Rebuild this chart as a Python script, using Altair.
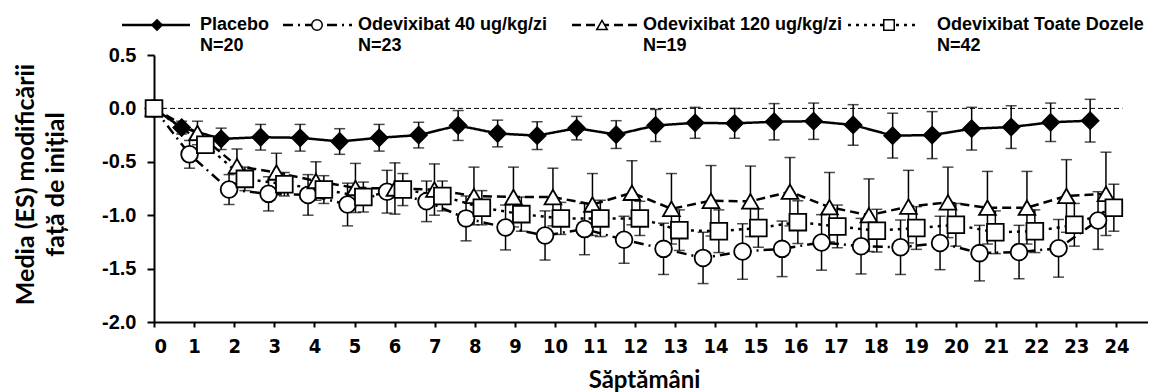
import altair as alt
import pandas as pd

weeks = list(range(25))

series_names = ["Placebo", "Odevixibat 40 ug/kg/zi", "Odevixibat 120 ug/kg/zi", "Odevixibat Toate Dozele"]
series_n = ["N=20", "N=23", "N=19", "N=42"]

placebo_mean = [0, -0.18, -0.285, -0.27, -0.275, -0.31, -0.275, -0.25, -0.16, -0.235, -0.255, -0.185, -0.245,
                -0.16, -0.135, -0.14, -0.125, -0.12, -0.155, -0.255, -0.25, -0.19, -0.175, -0.13, -0.115]
placebo_se = [0, 0.06, 0.10, 0.12, 0.125, 0.12, 0.125, 0.12, 0.14, 0.125, 0.13, 0.11, 0.13,
              0.15, 0.145, 0.14, 0.17, 0.17, 0.19, 0.21, 0.22, 0.20, 0.20, 0.18, 0.20]

dose40_mean = [0, -0.43, -0.76, -0.80, -0.81, -0.90, -0.78, -0.87, -1.03, -1.115, -1.19, -1.13, -1.23,
               -1.315, -1.40, -1.34, -1.315, -1.255, -1.29, -1.30, -1.26, -1.355, -1.345, -1.31, -1.05]
dose40_se = [0, 0.13, 0.14, 0.16, 0.19, 0.20, 0.20, 0.19, 0.21, 0.21, 0.23, 0.24, 0.22,
             0.24, 0.24, 0.26, 0.26, 0.26, 0.26, 0.255, 0.25, 0.26, 0.25, 0.27, 0.27]

dose120_mean = [0, -0.23, -0.54, -0.60, -0.68, -0.745, -0.75, -0.76, -0.82, -0.83, -0.83, -0.90, -0.79,
                -0.94, -0.865, -0.87, -0.78, -0.925, -1.00, -0.92, -0.88, -0.93, -0.93, -0.82, -0.80]
dose120_se = [0, 0.11, 0.16, 0.18, 0.18, 0.23, 0.24, 0.24, 0.27, 0.28, 0.27, 0.29, 0.30,
              0.33, 0.33, 0.33, 0.32, 0.325, 0.34, 0.34, 0.33, 0.34, 0.34, 0.34, 0.39]

all_mean = [0, -0.34, -0.66, -0.71, -0.76, -0.83, -0.76, -0.82, -0.93, -0.99, -1.03, -1.03, -1.03,
            -1.14, -1.15, -1.12, -1.065, -1.105, -1.145, -1.12, -1.09, -1.16, -1.15, -1.09, -0.93]
all_se = [0, 0.07, 0.11, 0.11, 0.13, 0.14, 0.15, 0.14, 0.16, 0.16, 0.15, 0.17, 0.16,
          0.19, 0.20, 0.18, 0.20, 0.20, 0.20, 0.20, 0.20, 0.20, 0.20, 0.20, 0.22]

week_offsets = [-0.3, -0.1, 0.1, 0.3]
x_tick_labels = list(range(25))
y_ticks = [-2.0, -1.5, -1.0, -0.5, 0.0, 0.5]

means = [placebo_mean, dose40_mean, dose120_mean, all_mean]
ses = [placebo_se, dose40_se, dose120_se, all_se]

rows = []
for name, mm, ss, off in zip(series_names, means, ses, week_offsets):
    for w, m, s in zip(weeks, mm, ss):
        rows.append(dict(series=name, week=w, pos=w + (off if w > 0 else 0.0),
                         mean=m, lo=m - s, hi=m + s))
df = pd.DataFrame(rows)

W, H = 994, 267
px_axis = 40.1
px_mark = 39.5

shape_scale = alt.Scale(domain=series_names, range=["diamond", "circle", "triangle-up", "square"])
fill_scale = alt.Scale(domain=series_names, range=["black", "white", "white", "white"])
dash_scale = alt.Scale(domain=series_names, range=[[1, 0], [10, 5, 2, 5], [9, 5], [3, 5]])
size_scale = alt.Scale(domain=series_names, range=[280, 280, 300, 190])

xm = alt.X("pos:Q", scale=alt.Scale(domain=[0, W / px_mark], nice=False, zero=False), axis=None)
ys = alt.Scale(domain=[-2.0, 0.5], nice=False, zero=False)
y_axis = alt.Axis(values=y_ticks,
                  labelExpr="(datum.value < 0 ? '-' : '') + format(abs(datum.value), '.1f')",
                  title=["Media (ES) modificării", "față de inițial"],
                  titleX=-116, titleY=129, titleAngle=-90, titleAlign="center",
                  titleBaseline="bottom", titleLineHeight=30,
                  titleFont="Lato", titleFontSize=25, titleFontWeight="bold",
                  labelFont="Liberation Sans", labelFontSize=20, labelFontWeight="bold",
                  tickSize=7, labelPadding=11)

# axis / zero reference layer
zero_df = pd.DataFrame({"x": [0.0], "x2": [24.15], "y": [0.0]})
zero = alt.Chart(zero_df).mark_rule(color="black", strokeWidth=1, strokeDash=[5, 3]).encode(
    x=alt.X("x:Q", scale=alt.Scale(domain=[0, W / px_axis], nice=False, zero=False),
            axis=alt.Axis(values=x_tick_labels, format="d", title="Săptămâni",
                          titleX=490, titleY=58, titleBaseline="middle",
                          titleFont="Lato", titleFontSize=24, titleFontWeight="bold",
                          labelFont="'Liberation Sans Narrow', 'DejaVu Sans Condensed', 'Liberation Sans', sans-serif",
                          labelFontSize=20, labelFontWeight="bold",
                          tickSize=5, labelPadding=9)),
    x2="x2:Q",
    y=alt.Y("y:Q", scale=ys, axis=y_axis),
)

base = alt.Chart(df)
lines = base.mark_line(color="black", strokeWidth=2.5).encode(
    x=xm, y=alt.Y("mean:Q", scale=ys),
    strokeDash=alt.StrokeDash("series:N", scale=dash_scale, legend=None),
    detail="series:N",
    order="week:Q",
)
bars = base.mark_rule(color="black", strokeWidth=1.5).encode(
    x=xm, y=alt.Y("lo:Q", scale=ys), y2="hi:Q")
caps_lo = base.mark_tick(color="black", thickness=1.5, size=11, orient="horizontal").encode(
    x=xm, y=alt.Y("lo:Q", scale=ys))
caps_hi = base.mark_tick(color="black", thickness=1.5, size=11, orient="horizontal").encode(
    x=xm, y=alt.Y("hi:Q", scale=ys))
points = base.mark_point(filled=True, stroke="black", strokeWidth=1.8, opacity=1).encode(
    x=xm, y=alt.Y("mean:Q", scale=ys),
    shape=alt.Shape("series:N", scale=shape_scale, legend=None),
    fill=alt.Fill("series:N", scale=fill_scale, legend=None),
    size=alt.Size("series:N", scale=size_scale, legend=None),
)

# legend (pixel positions relative to plot area)
leg_line_x1 = [-32, 129, 418, 694]
leg_line_x2 = [36, 198, 485, 763]
leg_sym_x = [3, 163, 448, 735]
leg_text_x = [46, 204, 489, 783]
leg = pd.DataFrame({"series": series_names, "n": series_n, "x1": leg_line_x1, "x2": leg_line_x2,
                    "sx": leg_sym_x, "tx": leg_text_x, "y1": [-30] * 4, "y2": [-9] * 4})
lbase = alt.Chart(leg)
leg_lines = lbase.mark_rule(color="black", strokeWidth=2.5).encode(
    x=alt.X("x1:Q", scale=None), x2="x2:Q", y=alt.Y("y1:Q", scale=None),
    strokeDash=alt.StrokeDash("series:N", scale=dash_scale, legend=None))
leg_syms = lbase.mark_point(filled=True, stroke="black", strokeWidth=1.5, opacity=1, size=110).encode(
    x=alt.X("sx:Q", scale=None), y=alt.Y("y1:Q", scale=None),
    shape=alt.Shape("series:N", scale=shape_scale, legend=None),
    fill=alt.Fill("series:N", scale=fill_scale, legend=None))
leg_t1 = lbase.mark_text(align="left", baseline="middle", font="Liberation Sans", fontSize=18,
                         fontWeight="bold", color="black").encode(
    x=alt.X("tx:Q", scale=None), y=alt.Y("y1:Q", scale=None), text="series:N")
leg_t2 = lbase.mark_text(align="left", baseline="middle", font="Liberation Sans", fontSize=18,
                         fontWeight="bold", color="black").encode(
    x=alt.X("tx:Q", scale=None), y=alt.Y("y2:Q", scale=None), text="n:N")

chart = alt.layer(zero, lines, bars, caps_lo, caps_hi, points,
                  leg_lines, leg_syms, leg_t1, leg_t2).resolve_scale(
    x="independent"
).properties(
    width=W, height=H,
    autosize=alt.AutoSizeParams(type="none"),
    padding={"left": 146, "top": 47, "right": 0, "bottom": 70},
    background="white",
).configure_view(stroke=None).configure_axis(
    domainColor="black", domainWidth=2, tickColor="black", tickWidth=2,
    labelColor="black", titleColor="black", grid=False,
)

chart.save("out.html", embed_options={"renderer": "svg", "actions": False})
